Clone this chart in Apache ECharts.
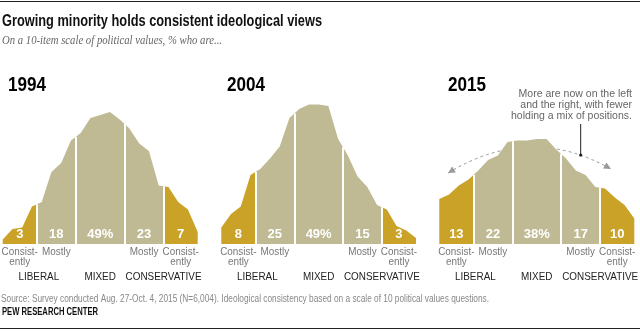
<!DOCTYPE html>
<html><head><meta charset="utf-8">
<script src="https://cdn.jsdelivr.net/npm/echarts@6/dist/echarts.min.js"></script>
<style>html,body{margin:0;padding:0;background:#fff}#c{width:640px;height:331px}</style>
</head><body><div id="c"></div>
<script>
// ---- data ----
const scores = [-10,-9,-8,-7,-6,-5,-4,-3,-2,-1,0,1,2,3,4,5,6,7,8,9,10];
const years = ['1994','2004','2015'];
const dist1994 = [0.3,1.0,1.1,2.5,2.8,4.8,5.4,6.9,7.4,8.4,8.6,8.8,8.3,7.7,6.7,6.2,3.9,3.8,2.8,2.3,0.8];
const dist2004 = [1.1,2.0,2.5,4.6,5.0,5.7,6.5,8.4,9.0,9.3,9.3,9.2,7.0,5.9,4.5,3.8,2.6,2.3,1.2,0.9,0.4];
const dist2015 = [3.0,3.3,3.9,4.3,4.9,5.6,5.9,6.8,6.9,6.9,7.0,7.0,6.3,5.7,4.9,4.6,3.8,3.7,3.1,2.6,1.7];
const share1994 = [3,18,49,23,7];
const share2004 = [8,25,49,15,3];
const share2015 = [13,22,38,17,10];
const segmentBounds = [-6.5,-2.5,2.5,6.5];
const segmentCenters = [-8.25,-4.5,0,4.5,8.25];
const segmentLabels = ['Consist-\nently','Mostly','','Mostly','Consist-\nently'];
const groupLabels = ['LIBERAL','MIXED','CONSERVATIVE'];
const groupCenters = [-6.3,0,6.5];

// ---- styling ----
const GOLD = '#C9A227', TAN = '#BFBA93';
const SANS = '"Liberation Sans",Arial,sans-serif';
const SERIF = '"Liberation Serif","DejaVu Serif",serif';
const dists = [dist1994, dist2004, dist2015];
const shares = [share1994, share2004, share2015];
const gridRects = [{left:2.7,width:195},{left:221.3,width:194.7},{left:439.3,width:195}];
const yearX = [8, 227, 448];

const mctx = document.createElement('canvas').getContext('2d');
function fit(text, font, w){ mctx.font = font; return w / mctx.measureText(text).width; }

function interp(arr, b){
  for (let k=0;k<scores.length-1;k++){
    if (b>=scores[k] && b<=scores[k+1]){
      const t=(b-scores[k])/(scores[k+1]-scores[k]);
      return arr[k]+(arr[k+1]-arr[k])*t;
    }
  }
  return 0;
}

const chart = echarts.init(document.getElementById('c'), null, {renderer:'canvas'});
chart.setOption({
  animation:false,
  grid: gridRects.map(g=>({left:g.left, width:g.width, top:94, height:150})),
  xAxis: gridRects.map((g,i)=>({type:'value', gridIndex:i, min:-10, max:10, show:false})),
  yAxis: gridRects.map((g,i)=>({type:'value', gridIndex:i, min:0, max:10, show:false})),
  visualMap: {type:'piecewise', show:false, dimension:0, seriesIndex:[0,1,2],
    pieces:[{lt:-6.5,color:GOLD},{gte:-6.5,lte:6.5,color:TAN},{gt:6.5,color:GOLD}]},
  series: dists.map((d,i)=>({
    type:'line', xAxisIndex:i, yAxisIndex:i,
    data: scores.map((s,k)=>[s,d[k]]),
    symbol:'none', showSymbol:false,
    lineStyle:{width:0}, areaStyle:{opacity:1},
    markLine:{silent:true, symbol:'none', label:{show:false},
      lineStyle:{color:'#fff', width:2, type:'solid', opacity:1},
      emphasis:{disabled:true},
      data: segmentBounds.map(b=>[{coord:[b,0]},{coord:[b,interp(d,b)]}])}
  }))
});

const g = [];
function txt(text, x, y, font, fill, opts){
  opts = opts || {};
  const el = {type:'text', x:x, y:y, z: opts.z||1, style:{text:text, font:font, fill:fill,
    align:opts.align||'left', verticalAlign:opts.va||'middle'}};
  if (opts.lh) el.style.lineHeight = opts.lh;
  if (opts.sx) el.scaleX = opts.sx;
  g.push(el);
}
g.push({type:'line', shape:{x1:0,y1:1.5,x2:640,y2:1.5}, style:{stroke:'#222', lineWidth:1}});
g.push({type:'line', shape:{x1:0,y1:328.5,x2:640,y2:328.5}, style:{stroke:'#222', lineWidth:1}});

const TITLE = 'Growing minority holds consistent ideological views';
const fT = 'bold 16px '+SANS;
txt(TITLE, 2, 22, fT, '#111', {sx: fit(TITLE, fT, 320)});
const SUB = 'On a 10-item scale of political values, % who are...';
const fS = 'italic 11.5px '+SERIF;
txt(SUB, 2, 40.5, fS, '#666', {sx: fit(SUB, fS, 220)});
const SRC = 'Source: Survey conducted Aug. 27-Oct. 4, 2015 (N=6,004). Ideological consistency based on a scale of 10 political values questions.';
const fSrc = '10px '+SANS;
txt(SRC, 1, 299, fSrc, '#888', {sx: fit(SRC, fSrc, 488)});
const PEW = 'PEW RESEARCH CENTER';
const fP = 'bold 10px '+SANS;
txt(PEW, 2, 312.5, fP, '#111', {sx: fit(PEW, fP, 96)});

const fY = 'bold 21px '+SANS;
const sY = fit('1994', fY, 38);
const fL = '11px '+SANS;
const sL = 0.9;
years.forEach((y,i)=>{
  txt(y, yearX[i], 85, fY, '#000', {sx:sY});
  const base = chart.convertToPixel({gridIndex:i},[0,0])[1];
  segmentCenters.forEach((c,k)=>{
    const px = chart.convertToPixel({gridIndex:i},[c,0])[0];
    txt(shares[i][k] + (k===2?'%':''), px, base-10, 'bold 13px '+SANS, '#fff', {align:'center', z:10});
    if (segmentLabels[k]) txt(segmentLabels[k], px, base+2.5, fL, '#777', {align:'center', va:'top', lh:10, sx:sL});
  });
  groupCenters.forEach((c,k)=>{
    const px = chart.convertToPixel({gridIndex:i},[c,0])[0];
    txt(groupLabels[k], px, base+32.7, fL, '#222', {align:'center', sx:sL});
  });
});

// 2015 annotation (anchored in data coordinates of the 2015 panel)
const P = (x,y)=>chart.convertToPixel({gridIndex:2},[x,y]);
const a0 = P(-9.1,4.73), cp = P(-0.7,8.07), a1 = P(7.6,5.0);
g.push({type:'bezierCurve', z:0, shape:{x1:a0[0],y1:a0[1],cpx1:cp[0],cpy1:cp[1],x2:a1[0],y2:a1[1]}, style:{stroke:'#999', lineWidth:1, lineDash:[3,3], fill:null}});
function head(tip, from){
  let dx=tip[0]-from[0], dy=tip[1]-from[1]; const L=Math.hypot(dx,dy); dx/=L; dy/=L;
  const len=7, w=3.5, nx=-dy, ny=dx;
  return {type:'polygon', z:0, shape:{points:[[tip[0],tip[1]],[tip[0]-dx*len+nx*w, tip[1]-dy*len+ny*w],[tip[0]-dx*len-nx*w, tip[1]-dy*len-ny*w]]}, style:{fill:'#999'}};
}
g.push(head(a0,cp)); g.push(head(a1,cp));
const NOTE = 'More are now on the left\nand the right, with fewer\nholding a mix of positions.';
const fN = '11.5px '+SANS;
txt(NOTE, 632, 88.5, fN, '#666', {align:'right', va:'top', lh:11, sx: fit('holding a mix of positions.', fN, 121)});
const dot = P(4.5, 5.93);
g.push({type:'line', shape:{x1:dot[0],y1:124,x2:dot[0],y2:dot[1]}, style:{stroke:'#222', lineWidth:1}});
g.push({type:'circle', shape:{cx:dot[0],cy:dot[1],r:1.6}, style:{fill:'#222'}});

chart.setOption({graphic:{elements:g}});
</script></body></html>
